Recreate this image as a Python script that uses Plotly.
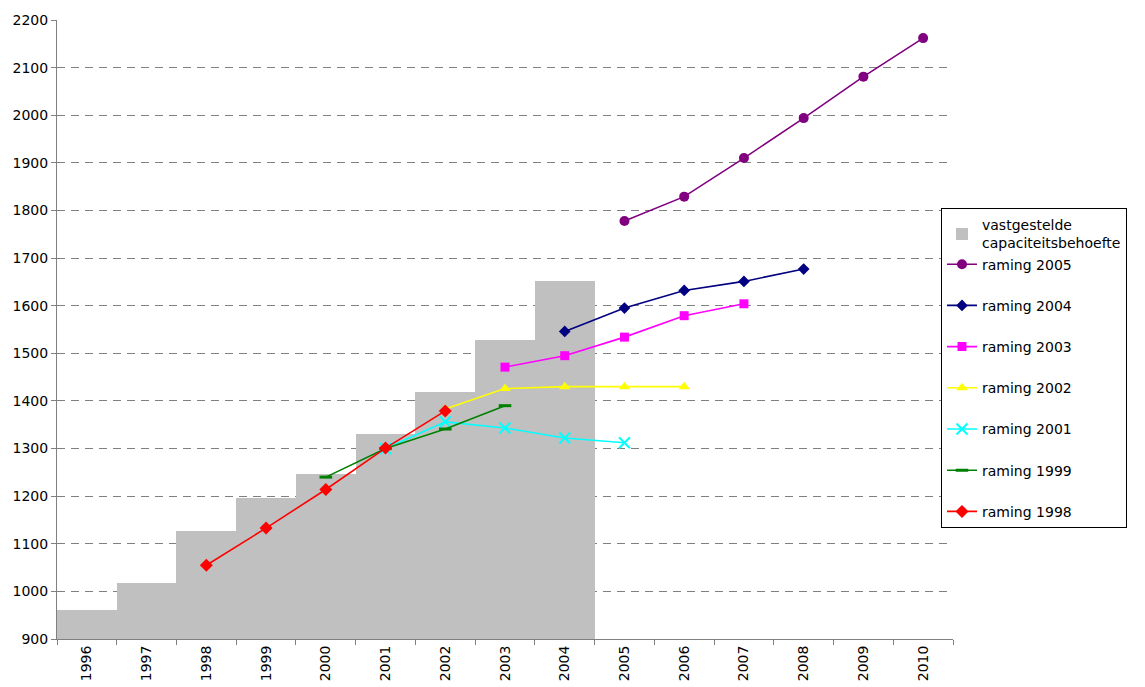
import plotly.graph_objects as go

years = [str(y) for y in range(1996, 2011)]

bar_years = ["1996", "1997", "1998", "1999", "2000", "2001", "2002", "2003", "2004"]
bar_values = [960, 1018, 1127, 1197, 1247, 1331, 1419, 1528, 1652]

r2005_x = ["2005", "2006", "2007", "2008", "2009", "2010"]
r2005_y = [1778, 1829, 1910, 1994, 2081, 2162]

r2004_x = ["2004", "2005", "2006", "2007", "2008"]
r2004_y = [1546, 1595, 1632, 1651, 1677]

r2003_x = ["2003", "2004", "2005", "2006", "2007"]
r2003_y = [1471, 1495, 1534, 1579, 1604]

r2002_x = ["2002", "2003", "2004", "2005", "2006"]
r2002_y = [1383, 1426, 1430, 1430, 1430]

r2001_x = ["2001", "2002", "2003", "2004", "2005"]
r2001_y = [1300, 1356, 1343, 1322, 1312]

r1999_x = ["2000", "2001", "2002", "2003"]
r1999_y = [1240, 1300, 1341, 1390]

r1998_x = ["1998", "1999", "2000", "2001", "2002"]
r1998_y = [1055, 1133, 1214, 1301, 1379]

FONT = "DejaVu Sans"
FS = 14

fig = go.Figure()
fig.add_trace(go.Bar(
    x=bar_years, y=bar_values, name="vastgestelde<br>capaciteitsbehoefte",
    marker=dict(color="#C0C0C0", line=dict(width=0)), legendgroup="g0",
))

series = [
    ("raming 2005", r2005_x, r2005_y, "#800080", "circle", 10, "g0"),
    ("raming 2004", r2004_x, r2004_y, "#000080", "diamond", 9, "g1"),
    ("raming 2003", r2003_x, r2003_y, "#FF00FF", "square", 9, "g2"),
    ("raming 2002", r2002_x, r2002_y, "#FFFF00", "triangle-up", 10, "g3"),
    ("raming 2001", r2001_x, r2001_y, "#00FFFF", "x-thin", 11, "g4"),
    ("raming 1999", r1999_x, r1999_y, "#008000", "line-ew", 9, "g5"),
    ("raming 1998", r1998_x, r1998_y, "#FF0000", "diamond", 10, "g6"),
]
for name, xs, ys, col, sym, size, grp in series:
    if sym in ("x-thin", "line-ew"):
        marker = dict(symbol=sym, size=size, color=col, line=dict(color=col, width=3 if sym == "line-ew" else 2))
    else:
        marker = dict(symbol=sym, size=size, color=col, line=dict(width=0))
    fig.add_trace(go.Scatter(
        x=xs, y=ys, name=name, mode="lines+markers",
        line=dict(color=col, width=1.6), marker=marker, legendgroup=grp,
    ))

fig.update_layout(
    width=1145, height=687,
    margin=dict(l=57, r=192, t=20, b=48),
    paper_bgcolor="white", plot_bgcolor="white",
    font=dict(family=FONT, size=FS, color="black"),
    bargap=0,
    showlegend=True,
    legend=dict(
        x=0.9866, y=0.696, xanchor="left", yanchor="top",
        bordercolor="black", borderwidth=1, bgcolor="white",
        font=dict(family=FONT, size=FS, color="black"),
        traceorder="grouped", tracegroupgap=20,
    ),
    xaxis=dict(
        type="category", categoryorder="array", categoryarray=years,
        range=[-0.5, 14.5], tickangle=-90, tickson="boundaries",
        ticks="outside", ticklen=5, tickcolor="#808080",
        showline=True, linecolor="#808080", linewidth=1,
        showgrid=False, tickfont=dict(family=FONT, size=FS),
        automargin=False,
    ),
    yaxis=dict(
        range=[900, 2200], dtick=100, tick0=900,
        ticks="outside", ticklen=5, tickcolor="#808080",
        showline=True, linecolor="#808080", linewidth=1,
        showgrid=True, gridcolor="#808080", gridwidth=1, griddash="8px,6px",
        zeroline=False, tickfont=dict(family=FONT, size=FS),
        automargin=False,
    ),
)

fig.write_html(
    "out.html",
    config={"displayModeBar": False},
    post_script="document.body.style.margin='0px';document.body.style.overflow='hidden';",
)
